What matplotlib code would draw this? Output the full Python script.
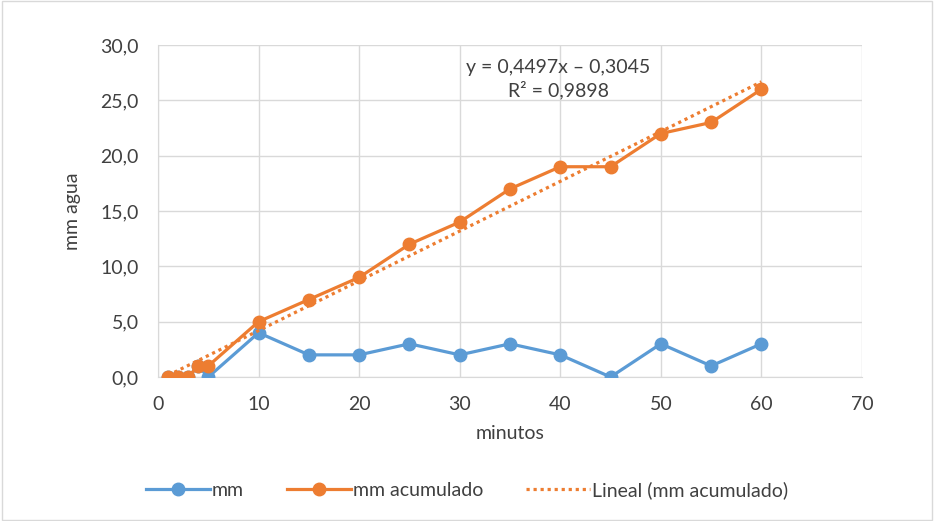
import numpy as np
import matplotlib.pyplot as plt
from matplotlib.ticker import FuncFormatter

minutos = [1, 2, 3, 4, 5, 10, 15, 20, 25, 30, 35, 40, 45, 50, 55, 60]
mm = [0, 0, 0, 1, 0, 4, 2, 2, 3, 2, 3, 2, 0, 3, 1, 3]
mm_acum = [0, 0, 0, 1, 1, 5, 7, 9, 12, 14, 17, 19, 19, 22, 23, 26]

plt.rcParams['font.family'] = ['Lato', 'DejaVu Sans']

azul = '#5B9BD5'
naranja = '#ED7D31'
gris = '#404040'
fs = 14

fig = plt.figure(figsize=(9.34, 5.21), dpi=100)
ax = fig.add_axes([158/934, 1 - 377/521, (862-158)/934, (377-45)/521])

# trend line (least squares)
x = np.array(minutos, dtype=float)
y = np.array(mm_acum, dtype=float)
m, b = np.polyfit(x, y, 1)
r2 = np.corrcoef(x, y)[0, 1] ** 2
xt = np.array([x.min(), x.max()])

ax.plot(x, mm, color=azul, lw=2.3, marker='o', ms=9, label='mm', zorder=3)
ax.plot(x, mm_acum, color=naranja, lw=2.3, marker='o', ms=9, label='mm acumulado', zorder=4)
ax.plot(xt, m * xt + b, color=naranja, lw=2.3, ls=(0, (1, 1.2)), label='Lineal (mm acumulado)', zorder=5)

eq = ('y = %.4fx – %.4f' % (m, -b)).replace('.', ',')
r2txt = ('R² = %.4f' % r2).replace('.', ',')
ax.text(39.8, 28.0, eq, ha='center', va='center', fontsize=fs, color=gris)
ax.text(39.8, 25.9, r2txt, ha='center', va='center', fontsize=fs, color=gris)

ax.set_xlim(0, 70)
ax.set_ylim(0, 30)
ax.set_xticks(range(0, 71, 10))
ax.set_yticks(range(0, 31, 5))
ax.yaxis.set_major_formatter(FuncFormatter(lambda v, p: ('%.1f' % v).replace('.', ',')))
ax.grid(True, color='#D9D9D9', lw=1)
ax.set_axisbelow(True)
for s in ['top', 'right']:
    ax.spines[s].set_visible(False)
for s in ['left', 'bottom']:
    ax.spines[s].set_color('#D9D9D9')
ax.tick_params(length=0, labelsize=fs, colors=gris)
ax.tick_params(axis='x', pad=14)
ax.tick_params(axis='y', pad=14)
ax.set_xlabel('minutos', fontsize=fs, color=gris, labelpad=8)
ax.set_ylabel('mm agua', fontsize=fs, color=gris, labelpad=14)

fig.legend(loc='center', bbox_to_anchor=(0.5, 1 - 490/521), ncol=3, frameon=False,
           fontsize=fs, handlelength=3.3, handletextpad=0.1, columnspacing=2.2,
           labelcolor=gris)

fig.patches.append(plt.Rectangle((0.002, 0.002), 0.996, 0.996, transform=fig.transFigure,
                                 fill=False, edgecolor='#D9D9D9', lw=1))

fig.savefig('out.png', dpi=100)
